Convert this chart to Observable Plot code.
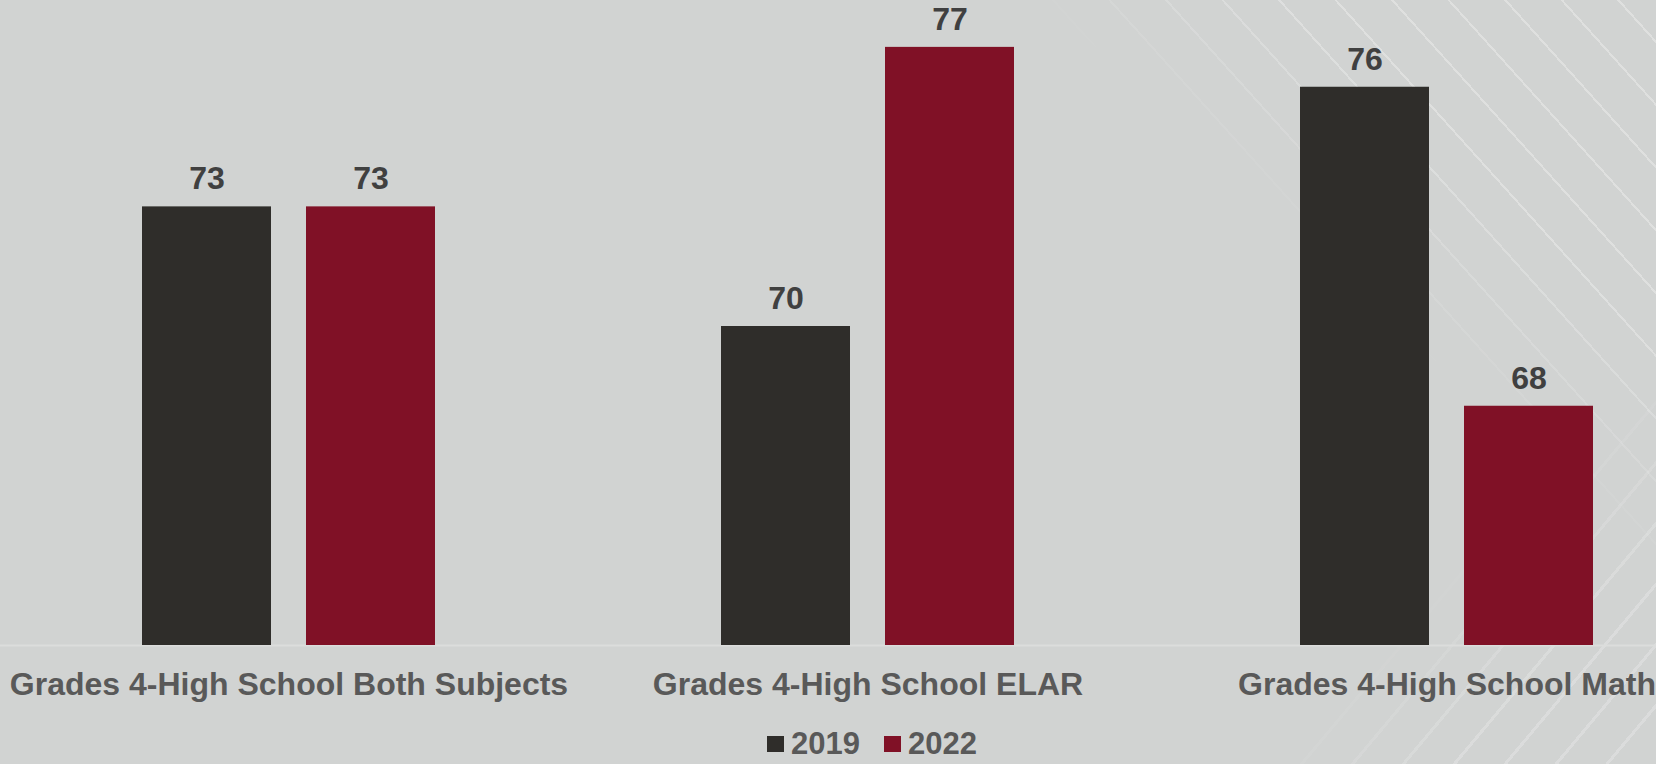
<!DOCTYPE html>
<html>
<head>
<meta charset="utf-8">
<script src="https://cdn.jsdelivr.net/npm/d3@7"></script>
<script src="https://cdn.jsdelivr.net/npm/@observablehq/plot@0.6"></script>
<style>
  html, body { margin: 0; padding: 0; }
  body { width: 1656px; height: 764px; overflow: hidden; background: #d1d3d2; font-family: "Liberation Sans", Arial, sans-serif; }
  #wrap { position: relative; width: 1656px; height: 764px; overflow: hidden; }
  .stripes { position: absolute; pointer-events: none; }
  #s1 { left: 1050px; top: 0; width: 606px; height: 560px;
        background: repeating-linear-gradient(48deg, rgba(255,255,255,0) 0px, rgba(255,255,255,0) 40px, rgba(255,255,255,0.3) 40px, rgba(255,255,255,0.3) 42px);
        -webkit-mask-image: linear-gradient(to bottom left, #000 0%, #000 30%, transparent 52%);
        mask-image: linear-gradient(to bottom left, #000 0%, #000 30%, transparent 52%); }
  #s2 { left: 1250px; top: 340px; width: 406px; height: 424px;
        background: repeating-linear-gradient(-50deg, rgba(255,255,255,0) 0px, rgba(255,255,255,0) 36px, rgba(255,255,255,0.22) 36px, rgba(255,255,255,0.22) 39px);
        -webkit-mask-image: linear-gradient(to top left, #000 0%, #000 25%, transparent 50%);
        mask-image: linear-gradient(to top left, #000 0%, #000 25%, transparent 50%); }
  #chart { position: absolute; left: -1px; top: 0; }
  #legend { position: absolute; left: 767px; top: 728px; display: flex; align-items: center; font-size: 31px; line-height: 31px; font-weight: bold; color: #595959; }
  .item { display: flex; align-items: center; margin-right: 24px; }
  .sw { display: inline-block; width: 17px; height: 16px; margin-right: 7px; }
</style>
</head>
<body>
<div id="wrap">
  <div class="stripes" id="s1"></div>
  <div class="stripes" id="s2"></div>
  <div id="chart"></div>
  <div id="legend"></div>
</div>
<script>
const categories = ["Grades 4-High School Both Subjects", "Grades 4-High School ELAR", "Grades 4-High School Math"];
const years = ["2019", "2022"];
const values2019 = [73, 70, 76];
const values2022 = [73, 77, 68];
const yMin = 62;
const yMax = 78;
const colors = ["#2f2d2a", "#801126"];

const data = categories.flatMap((c, i) => [
  {category: c, year: years[0], value: values2019[i]},
  {category: c, year: years[1], value: values2022[i]}
]);

const chart = Plot.plot({
  width: 1737,
  height: 710,
  marginTop: 7,
  marginBottom: 65,
  marginLeft: 0,
  marginRight: 0,
  style: {background: "transparent", fontFamily: "'Liberation Sans', Arial, sans-serif", maxWidth: "none", overflow: "visible"},
  fx: {domain: categories, padding: 0, label: null},
  x: {domain: years, paddingInner: 0.2107, paddingOuter: 0.864, axis: null},
  y: {domain: [yMin, yMax], axis: null},
  color: {domain: years, range: colors},
  marks: [
    Plot.ruleY([yMin], {stroke: "#dcdddc", strokeWidth: 2}),
    Plot.barY(data, {fx: "category", x: "year", y1: () => yMin, y2: "value", fill: "year"}),
    Plot.text(data, {fx: "category", x: "year", y: "value", text: d => String(d.value), dy: -28, fontSize: 32, fontWeight: "bold", fill: "#404040"}),
    Plot.axisFx({anchor: "bottom", tickSize: 0, tickPadding: 27, fontSize: 32, fontWeight: "bold", fill: "#595959", label: null})
  ]
});
document.getElementById("chart").appendChild(chart);

const legend = document.getElementById("legend");
years.forEach((y, i) => {
  const item = document.createElement("div");
  item.className = "item";
  const sw = document.createElement("span");
  sw.className = "sw";
  sw.style.background = colors[i];
  const t = document.createElement("span");
  t.textContent = y;
  item.appendChild(sw);
  item.appendChild(t);
  legend.appendChild(item);
});
</script>
</body>
</html>
